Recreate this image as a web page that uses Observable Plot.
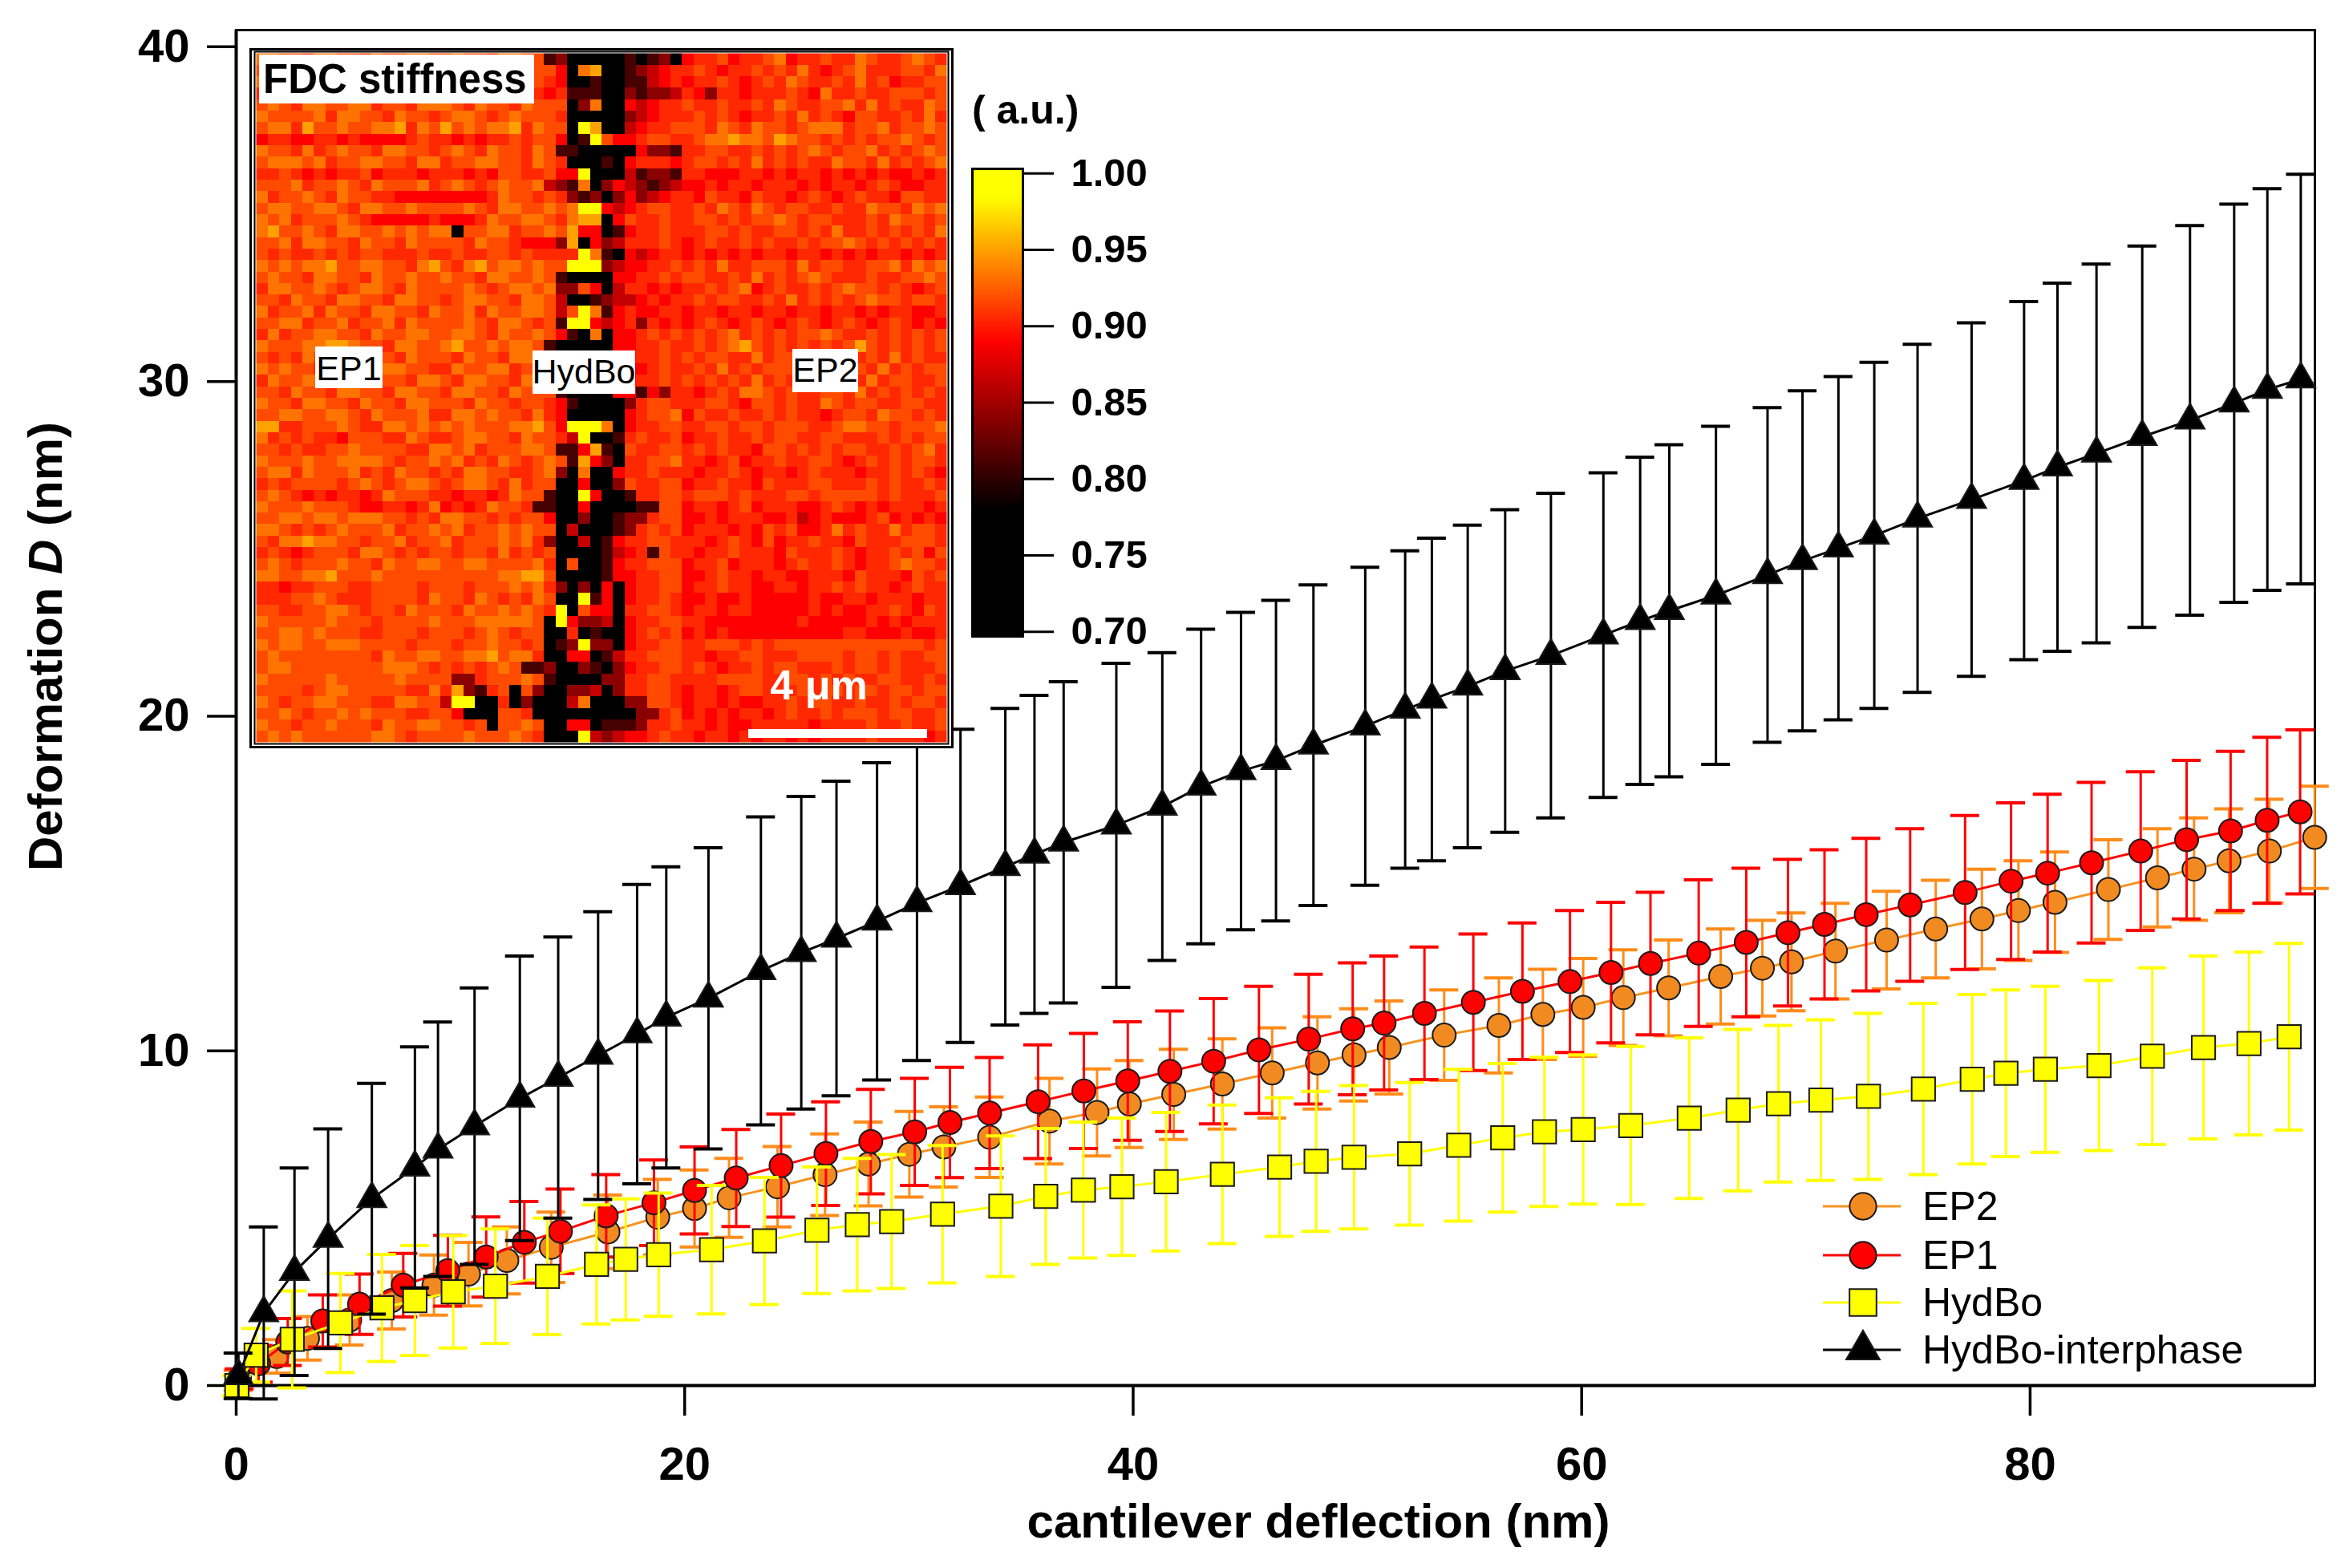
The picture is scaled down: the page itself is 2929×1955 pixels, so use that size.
<!DOCTYPE html>
<html><head><meta charset="utf-8">
<script src="https://cdn.jsdelivr.net/npm/d3@7"></script>
<script src="https://cdn.jsdelivr.net/npm/@observablehq/plot@0.6"></script>
<style>
html,body{margin:0;padding:0;background:#fff;}
#wrap{position:relative;width:2929px;height:1955px;overflow:hidden;background:#fff;font-family:"Liberation Sans",Arial,sans-serif;}
#wrap > svg{position:absolute;}
</style></head><body><div id="wrap"></div>
<script>
// ---------------- data ----------------
const xTicks = [0, 20, 40, 60, 80];
const yTicks = [0, 10, 20, 30, 40];
const xDomain = [0, 92.7];
const yDomain = [0, 40.5];

const ep2X = [0.1,1.81,3.18,5.06,6.94,8.82,10.36,12.07,14.05,16.58,18.8,20.44,21.98,24.14,26.26,28.2,30.02,31.56,33.6,36.27,38.39,39.83,41.81,43.98,46.2,48.22,49.85,51.42,53.87,56.31,58.27,60.07,61.86,63.88,66.2,68.06,69.36,71.32,73.6,75.79,77.85,79.48,81.11,83.49,85.68,87.31,88.87,90.67,92.69];
const ep2Y = [0.15,0.87,1.41,1.96,2.54,3.0,3.33,3.74,4.13,4.59,5.03,5.29,5.61,5.94,6.3,6.62,6.91,7.13,7.42,7.9,8.16,8.41,8.7,9.01,9.34,9.64,9.88,10.1,10.47,10.76,11.09,11.3,11.59,11.88,12.22,12.47,12.66,12.98,13.31,13.64,13.94,14.19,14.44,14.82,15.17,15.43,15.68,15.97,16.38];
const ep2Err = [0.3,0.5,0.65,0.75,0.85,0.9,0.95,1.0,1.05,1.1,1.13,1.15,1.18,1.2,1.22,1.25,1.28,1.2,1.2,1.28,1.3,1.3,1.35,1.35,1.35,1.38,1.38,1.39,1.35,1.42,1.35,1.46,1.43,1.43,1.42,1.43,1.46,1.43,1.46,1.46,1.49,1.49,1.5,1.49,1.47,1.53,1.55,1.55,1.53];

const ep1X = [0.15,1.0,2.3,3.86,5.5,7.45,9.44,11.15,12.85,14.46,16.5,18.63,20.44,22.3,24.3,26.3,28.3,30.26,31.83,33.6,35.76,37.8,39.76,41.64,43.59,45.61,47.83,49.79,51.19,52.99,55.17,57.36,59.48,61.31,63.07,65.22,67.34,69.2,70.83,72.69,74.65,77.1,79.15,80.78,82.74,84.93,86.98,88.94,90.57,92.04];
const ep1Y = [0.2,0.65,1.3,1.93,2.43,3.0,3.43,3.84,4.28,4.61,5.07,5.46,5.83,6.2,6.57,6.93,7.29,7.58,7.86,8.14,8.48,8.8,9.1,9.39,9.69,10.03,10.35,10.66,10.83,11.12,11.45,11.78,12.07,12.34,12.61,12.92,13.24,13.53,13.78,14.07,14.36,14.73,15.07,15.31,15.62,15.97,16.31,16.57,16.89,17.14];
const ep1Err = [0.3,0.55,0.7,0.78,0.9,0.95,1.06,1.2,1.22,1.26,1.23,1.28,1.3,1.45,1.54,1.55,1.56,1.6,1.65,1.66,1.7,1.72,1.77,1.8,1.87,1.9,1.94,1.97,2.0,1.98,2.04,2.04,2.12,2.1,2.13,2.19,2.22,2.19,2.23,2.28,2.28,2.3,2.34,2.36,2.4,2.37,2.37,2.38,2.48,2.45];

const hydX = [0.03,0.89,2.5,4.65,6.5,7.97,9.68,11.56,13.88,16.07,17.37,18.84,21.2,23.56,25.9,27.7,29.23,31.5,34.1,36.1,37.78,39.5,41.47,43.98,46.53,48.16,49.85,52.33,54.52,56.48,58.34,60.07,62.19,64.8,66.98,68.78,70.67,72.79,75.24,77.42,78.92,80.68,83.07,85.45,87.73,89.76,91.55];
const hydY = [0.0,0.91,1.38,1.87,2.32,2.54,2.8,2.97,3.26,3.62,3.77,3.91,4.06,4.32,4.64,4.81,4.9,5.12,5.36,5.65,5.84,5.94,6.09,6.31,6.53,6.7,6.82,6.92,7.18,7.4,7.58,7.65,7.77,7.99,8.23,8.42,8.53,8.64,8.86,9.15,9.33,9.45,9.56,9.84,10.1,10.22,10.42];
const hydErr = [0.3,0.8,1.45,1.48,1.6,1.64,1.68,1.71,1.74,1.78,1.81,1.84,1.92,1.9,1.89,1.98,2.0,2.05,2.1,2.03,2.03,2.05,2.07,2.07,2.07,2.09,2.14,2.13,2.27,2.22,2.23,2.23,2.36,2.4,2.41,2.34,2.4,2.48,2.56,2.53,2.49,2.48,2.54,2.64,2.73,2.73,2.79];

const intX = [0.1,1.23,2.6,4.1,6.05,7.97,9.0,10.63,12.65,14.36,16.14,17.88,19.18,21.06,23.4,25.2,26.77,28.58,30.36,32.3,34.3,35.6,36.9,39.25,41.3,43.03,44.81,46.37,48.04,50.35,52.13,53.32,54.92,56.59,58.63,60.97,62.61,63.91,65.99,68.29,69.85,71.45,73.05,74.98,77.39,79.73,81.22,82.96,85.0,87.13,89.1,90.58,92.07];
const intY = [0.29,2.17,3.4,4.39,5.58,6.52,7.06,7.75,8.58,9.2,9.86,10.5,11.0,11.57,12.39,12.93,13.36,13.87,14.42,14.93,15.5,15.87,16.23,16.74,17.3,17.9,18.36,18.67,19.13,19.7,20.2,20.5,20.89,21.35,21.81,22.42,22.85,23.15,23.61,24.22,24.64,25.02,25.4,25.91,26.47,27.04,27.44,27.85,28.35,28.84,29.35,29.76,30.07];
const intErr = [0.68,2.57,3.1,3.28,3.45,3.6,3.8,4.13,4.25,4.2,4.3,4.47,4.5,4.5,4.6,4.67,4.7,4.74,4.71,4.68,4.73,4.75,4.8,4.84,4.6,4.7,4.74,4.79,4.79,4.75,4.74,4.82,4.82,4.82,4.85,4.85,4.89,4.96,5.05,5.0,5.08,5.13,5.17,5.2,5.28,5.35,5.5,5.66,5.7,5.82,5.95,6.0,6.12];

const seriesNames = ["EP2", "EP1", "HydBo", "HydBo-interphase"];

// colour bar
const cbTicks = [0.70, 0.75, 0.80, 0.85, 0.90, 0.95, 1.00];
const cbStops = [0.70, 0.78, 0.89, 0.985, 1.0];
const cbColors = ["#000000", "#000000", "#ff0000", "#ffff00", "#ffff00"];

// heat map (60 x 60), levels 0..9, read row by row: cols 0-15 | 16-36 | 37-59
const heatLevels = [0.72, 0.81, 0.84, 0.865, 0.89, 0.905, 0.918, 0.933, 0.95, 0.99];
const heatLeft = ["7766577665766776","6677567656675776","7566766577667656","5677665766756766","6765776677566577","7666675776657665","6775866766778576","4554455454444565","7665756766577665","6777675667766577","5565454556455545","6667566765766675","7566765766554444","6776677657766766","7675666765444445","7866765776676767","6675776657665766","6565565656655565","7676778667766578","6766577665766766","5776676567765766","6657665776657766","7566757665776657","6677566756675766","5756677665766776","7666778876657766","6565766577665766","7676657766577665","5766775667766577","6657665776657766","7665776657665776","6677667765766675","8855666765577676","7565655466655765","6656556676666557","7666766777765667","6775766675657665","5656666567656776","6765454554576665","7666766654455457","6677677677766565","7765656766675667","6577877665667566","5654566657765656","6765666766576677","7766778666766666","5545566655666656","5556676555666657","6655667765665766","7666667666566667","6677676665566656","7677667776666566","6766666666576677","6776666666677765","7666667666667666","6666567766666557","7656677666557766","6676566767666556","7665667666576677","6767666666776566"];
const heatMid = ["676657766120000010120","766576676640780012345","657667656540010011345","567657765451110021223","765766576660270043455","677656766650000023455","867677857660980034556","545455656640196445665","676576657611000004221","566776657650001045554","554546655644900031221","676567667321702432123","444457665652120242345","667657766767994345665","444576677657880465565","706677566768440145565","665766544428042355565","565566565555971043455","657867767669992344556","766577667610000445565","667656776722640355454","567766577630012334545","667576677636971454455","667657765619943452545","677657667641070445656","786676776100000445565","657665776600000445565","576677566700000434565","657766576600000345565","577665766610000441425","665766566541000025665","577676657540000045667","767666778649997045566","567766576653900156556","767566677611481065566","675657656761842055667","657766556720700455655","567765756600400265566","545545766100940015566","454576651100400001166","776656566400200122566","675667676603000125656","756667675200301455665","656657565600001345165","667766667506001455666","666667788600001445566","665666767520204045566","665765657600914045565","657667676590644055665","666777776094223045566","665676566005010045656","656676656012922045566","667786775004401355666","656567611200210245566","622566676100002255665","582156062002230255665","399005020003700022665","640006650000000002256","665606676004401112556","667666765000932344565"];
const heatRight = ["45564556745565576556765","56545565657545675556657","45565456576556575645566","54255455565475565566656","65565565765566757565576","56565455657565466556575","66576576656777566756676","56778776876656565667656","55665565656765667565676","56656575656557665756567","55444554545545454544545","44545545554545545654455","54655465545654565546655","56576576566556557665767","56656566765665556576656","55665655665657556565657","45655656556566765656565","45454545545545454554545","56575566657566556675767","66556575656765556556676","55656745655656766565456","56566556575656567665665","45545545545545545455445","45654565456545654565454","56567565656676556565656","56567865656565686565656","65665575665566656575655","56575656665657565756566","65656575656665657566556","54565776565566575656565","55665466565576566556655","46556556565545665766565","55665665666556776656667","45565565665566555656566","56565546656565665565675","55456455655665456565665","54556545545655545565654","45565546555665556565565","56665655566566666565556","45545645554456545455545","44545554453454445645454","45554546564457565575665","55456546455655465556665","54556555465556545565646","45564555456556545567665","44565545544555465554656","45565544554556565545655","44544544444544554555455","45545544444545445565465","55444444445444445454555","45454444444444554445445","55666565666666666666656","55455665556666566565566","56545565665556566565556","55566665566565655665565","45545665556566566566566","45545445565665565565665","45454554565565666566556","55454455555455556556556","54554545545455556555545"];

// ---------------- layout ----------------
const W = 2929, H = 1955;
const M = {left: 294, right: 43, top: 37, bottom: 228};
const FONT = '"Liberation Sans", Arial, sans-serif';
const wrap = document.getElementById("wrap");

function rows(xs, ys, es) {
  const n = Math.min(xs.length, ys.length, es.length);
  return d3.range(n).map(i => ({x: xs[i], y: ys[i], e: es[i]}));
}
const series = [
  {name: seriesNames[0], data: rows(ep2X, ep2Y, ep2Err), marker: "#f28a22", bar: "#ff8c1a", line: "#f7931e", symbol: "circle", r: 14.5},
  {name: seriesNames[1], data: rows(ep1X, ep1Y, ep1Err), marker: "#ff0000", bar: "#ff0000", line: "#ff0000", symbol: "circle", r: 14.5},
  {name: seriesNames[2], data: rows(hydX, hydY, hydErr), marker: "#ffff00", bar: "#ffff00", line: "#ffff00", symbol: "square", r: 16.5},
  {name: seriesNames[3], data: rows(intX, intY, intErr), marker: "#000000", bar: "#000000", line: "#000000", symbol: "triangle", r: 13.5}
];
const capHalf = 18 * (xDomain[1] - xDomain[0]) / (W - M.left - M.right);

const marks = [
  Plot.frame({stroke: "#000", strokeWidth: 3}),
  Plot.ruleX([xDomain[0]], {stroke: "#000", strokeWidth: 4}),
  Plot.ruleY([yDomain[0]], {stroke: "#000", strokeWidth: 4}),
  Plot.axisX({ticks: xTicks, tickSize: 38, tickPadding: 38, fontSize: 58, fontWeight: "bold", fontFamily: FONT, strokeWidth: 3.5, label: null}),
  Plot.axisY({ticks: yTicks, tickSize: 36, tickPadding: 22, fontSize: 58, fontWeight: "bold", fontFamily: FONT, strokeWidth: 3.5, label: null})
];
for (const s of series) {
  marks.push(
    Plot.ruleX(s.data, {x: "x", y1: d => d.y - d.e, y2: d => d.y + d.e, stroke: s.bar, strokeWidth: 3}),
    Plot.ruleY(s.data, {y: d => d.y + d.e, x1: d => d.x - capHalf, x2: d => d.x + capHalf, stroke: s.bar, strokeWidth: 4}),
    Plot.ruleY(s.data, {y: d => d.y - d.e, x1: d => d.x - capHalf, x2: d => d.x + capHalf, stroke: s.bar, strokeWidth: 4}),
    Plot.line(s.data, {x: "x", y: "y", stroke: s.line, strokeWidth: 3}),
    Plot.dot(s.data, {x: "x", y: "y", symbol: s.symbol, r: s.r, fill: s.marker, stroke: "#1a1a1a", strokeWidth: 2})
  );
}

const main = Plot.plot({
  width: W, height: H,
  marginLeft: M.left, marginRight: M.right, marginTop: M.top, marginBottom: M.bottom,
  x: {domain: xDomain},
  y: {domain: yDomain},
  style: {background: "transparent", overflow: "visible", fontFamily: FONT, color: "#000"},
  marks
});
main.style.left = "0px"; main.style.top = "0px";
wrap.appendChild(main);

// ---------------- inset heat map ----------------
const pad = (s, n) => (s + "6".repeat(n)).slice(0, n);
const heatValues = [];
for (let r = 0; r < 60; r++) {
  const row = pad(heatLeft[r] || "", 16) + pad(heatMid[r] || "", 21) + pad(heatRight[r] || "", 23);
  for (const ch of row) heatValues.push(heatLevels[+ch]);
}
const colorScale = {type: "linear", domain: cbStops, range: cbColors, interpolate: "rgb"};

const inset = Plot.plot({
  width: 878, height: 873,
  marginLeft: 8, marginRight: 9, marginTop: 6, marginBottom: 8,
  x: {domain: [0, 60], axis: null},
  y: {domain: [0, 60], axis: null, reverse: true},
  color: colorScale,
  style: {background: "#fff", overflow: "visible"},
  marks: [
    Plot.raster(heatValues, {width: 60, height: 60, x1: 0, x2: 60, y1: 0, y2: 60, fill: d => d, imageRendering: "pixelated"}),
    Plot.frame({insetLeft: -2, insetRight: -2, insetTop: -2, insetBottom: -2, stroke: "#000", strokeWidth: 2}),
    Plot.frame({insetLeft: -7, insetRight: -7, insetTop: -5, insetBottom: -6, stroke: "#000", strokeWidth: 3})
  ]
});
inset.style.left = "311px"; inset.style.top = "60px";
wrap.appendChild(inset);

// ---------------- colour bar ----------------
const cbDomain = [0.697, 1.003];
const cbar = Plot.plot({
  width: 300, height: 700,
  marginLeft: 22, marginRight: 215, marginTop: 60, marginBottom: 57,
  x: {domain: [0, 1], axis: null},
  y: {domain: cbDomain},
  color: colorScale,
  style: {background: "transparent", overflow: "visible", fontFamily: FONT},
  marks: [
    Plot.raster({x1: 0, x2: 1, y1: cbDomain[0], y2: cbDomain[1], width: 1, height: 400, fill: (x, y) => y}),
    Plot.frame({stroke: "#000", strokeWidth: 3}),
    Plot.axisY({anchor: "right", ticks: cbTicks, tickFormat: d3.format(".2f"), tickSize: 38, tickPadding: 22, fontSize: 49, fontWeight: "bold", fontFamily: FONT, strokeWidth: 3, label: null})
  ]
});
cbar.style.left = "1190px"; cbar.style.top = "150px";
wrap.appendChild(cbar);

// ---------------- annotations ----------------
const ov = d3.create("svg").attr("width", W).attr("height", H)
  .style("left", "0px").style("top", "0px").style("font-family", FONT);

function boxLabel(x0, y0, x1, y1, text, tx, ty, size, weight, anchor) {
  ov.append("rect").attr("x", x0).attr("y", y0).attr("width", x1 - x0).attr("height", y1 - y0).attr("fill", "#fff");
  ov.append("text").attr("x", tx).attr("y", ty).attr("font-size", size).attr("font-weight", weight)
    .attr("text-anchor", anchor).attr("fill", "#000").text(text);
}
boxLabel(323, 68, 666, 129, "FDC stiffness", 328, 116, 51, "bold", "start");
boxLabel(393, 432, 477, 484, "EP1", 435, 474, 43, "normal", "middle");
boxLabel(664, 437, 792, 491, "HydBo", 728, 478, 43, "normal", "middle");
boxLabel(988, 435, 1070, 489, "EP2", 1029, 476, 43, "normal", "middle");
ov.append("text").attr("x", 1021).attr("y", 872).attr("font-size", 52).attr("font-weight", "bold")
  .attr("text-anchor", "middle").attr("fill", "#fff").text("4 μm");
ov.append("rect").attr("x", 933).attr("y", 909).attr("width", 223).attr("height", 11).attr("fill", "#fff");

ov.append("text").attr("x", 1212).attr("y", 154).attr("font-size", 50).attr("font-weight", "bold").text("( a.u.)");

ov.append("text").attr("x", 1644).attr("y", 1917).attr("font-size", 60).attr("font-weight", "bold")
  .attr("text-anchor", "middle").text("cantilever deflection (nm)");
const yt = ov.append("text").attr("transform", "translate(77,806) rotate(-90)").attr("font-size", 60)
  .attr("font-weight", "bold").attr("text-anchor", "middle");
yt.append("tspan").text("Deformation ");
yt.append("tspan").attr("font-style", "italic").text("D");
yt.append("tspan").text(" (nm)");

const legY = [1504, 1565, 1624, 1683];
const symMap = {circle: d3.symbolCircle, square: d3.symbolSquare, triangle: d3.symbolTriangle};
series.forEach((s, i) => {
  const g = ov.append("g").attr("transform", `translate(0,${legY[i]})`);
  g.append("line").attr("x1", 2273).attr("x2", 2370).attr("y1", 0).attr("y2", 0)
    .attr("stroke", s.line).attr("stroke-width", 3);
  const rr = s.r * 1.15;
  g.append("path").attr("transform", "translate(2323,0)")
    .attr("d", d3.symbol(symMap[s.symbol], Math.PI * rr * rr)())
    .attr("fill", s.marker).attr("stroke", "#1a1a1a").attr("stroke-width", 2);
  g.append("text").attr("x", 2397).attr("y", 17).attr("font-size", 50).attr("fill", "#000").text(s.name);
});
wrap.appendChild(ov.node());
</script></body></html>
